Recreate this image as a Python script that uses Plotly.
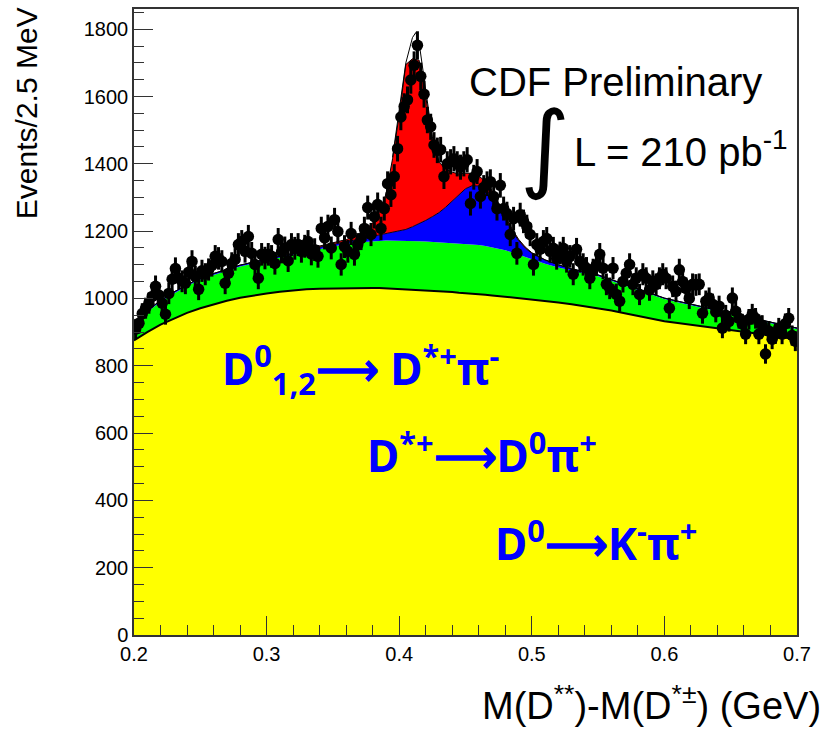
import numpy as np
import plotly.graph_objects as go

# ---------------- data ----------------
# data points: 200 bins of 2.5 MeV from 0.2 to 0.7 GeV
bin_lo = 0.2
bin_w = 0.0025
counts = [
    909, 926, 955, 971, 986, 1006, 1036, 1010, 986, 953,
    1015, 1057, 1089, 1060, 1051, 1045, 1078, 1110, 1065, 1027,
    1082, 1072, 1086, 1098, 1125, 1119, 1110, 1045, 1075, 1104,
    1116, 1160, 1169, 1140, 1184, 1134, 1101, 1060, 1131, 1120,
    1131, 1125, 1104, 1175, 1138, 1150, 1112, 1160, 1149, 1160,
    1140, 1155, 1169, 1132, 1145, 1125, 1208, 1180, 1214, 1150,
    1234, 1199, 1101, 1154, 1140, 1193, 1131, 1160, 1178, 1208,
    1270, 1190, 1243, 1279, 1208, 1267, 1341, 1308, 1362, 1445,
    1539, 1570, 1590, 1649, 1693, 1752, 1660, 1607, 1530, 1510,
    1456, 1440, 1442, 1362, 1400, 1406, 1415, 1400, 1390, 1400,
    1412, 1282, 1360, 1377, 1303, 1330, 1341, 1347, 1303, 1267,
    1336, 1267, 1252, 1190, 1237, 1134, 1249, 1229, 1214, 1190,
    1101, 1160, 1146, 1169, 1178, 1140, 1149, 1119, 1135, 1149,
    1110, 1125, 1072, 1146, 1110, 1101, 1090, 1060, 1085, 1100,
    1131, 1090, 1042, 1030, 1090, 1012, 992, 1050, 1075, 1101,
    1042, 1060, 1012, 1072, 1060, 1025, 1051, 1042, 1060, 1072,
    1060, 971, 1036, 1021, 1085, 1050, 1030, 1000, 1042, 1040,
    1042, 956, 992, 1001, 983, 960, 977, 912, 950, 932,
    1001, 962, 941, 924, 894, 938, 953, 941, 894, 920,
    835, 903, 879, 895, 912, 894, 925, 941, 890, 873,
]

# fit components on a common grid
x_grid = [0.20, 0.21, 0.22, 0.23, 0.24, 0.25, 0.26, 0.27, 0.28, 0.29,
          0.30, 0.31, 0.32, 0.33, 0.34, 0.35, 0.36, 0.37,
          0.375, 0.38, 0.385, 0.39, 0.395, 0.40, 0.405, 0.41, 0.415, 0.42,
          0.425, 0.43, 0.435, 0.44, 0.445, 0.45, 0.455, 0.46, 0.465, 0.47,
          0.475, 0.48, 0.485, 0.49, 0.495, 0.50,
          0.51, 0.52, 0.53, 0.54, 0.55, 0.56, 0.57, 0.58, 0.59, 0.60,
          0.61, 0.62, 0.63, 0.64, 0.65, 0.66, 0.67, 0.68, 0.69, 0.70]

bkg_yellow = [875, 900, 922, 940, 957, 971, 983, 993, 1002, 1009,
              1015, 1020, 1024, 1027, 1029, 1030, 1031, 1031,
              1031, 1031, 1031, 1030, 1030, 1029, 1028, 1027, 1026, 1024,
              1023, 1021, 1020, 1019, 1017, 1016, 1014, 1013, 1011, 1009,
              1007, 1005, 1003, 1002, 1000, 998,
              993, 988, 983, 977, 971, 964, 956, 948, 940, 932,
              927, 922, 917, 911, 906, 900, 895, 890, 884, 879]

bkg_green = [50, 60, 68, 75, 80, 85, 87, 90, 93, 95,
             97, 101, 106, 112, 118, 125, 131, 136,
             138, 139, 140, 142, 142, 143, 143, 144, 144, 145,
             145, 146, 146, 146, 147, 147, 147, 146, 145, 143,
             141, 138, 134, 128, 122, 117,
             110, 104, 99, 97, 95, 88, 82, 76, 71, 66,
             62, 58, 54, 51, 47, 44, 40, 36, 33, 30]

sig_blue = [4, 4, 4, 4, 4, 4, 4, 4, 4, 4,
            4, 4, 4, 5, 5, 6, 7, 9,
            11, 14, 17, 20, 24, 28, 34, 42, 52, 63,
            75, 88, 105, 125, 146, 163, 174, 175, 168, 150,
            122, 92, 64, 42, 28, 19,
            11, 8, 6, 5, 4, 4, 4, 3, 3, 3,
            3, 3, 3, 3, 3, 3, 3, 3, 3, 3]

sig_red = [0, 0, 0, 0, 0, 0, 0, 0, 0, 0,
           0, 0, 0, 2, 3, 4, 6, 14,
           25, 41, 67, 118, 219, 345, 490, 499, 486, 368,
           227, 150, 114, 85, 60, 46, 37, 30, 24, 18,
           13, 9, 6, 4, 3, 2,
           1, 0, 0, 0, 0, 0, 0, 0, 0, 0,
           0, 0, 0, 0, 0, 0, 0, 0, 0, 0]

# total fit curve near the narrow peak
fit_x = [0.395, 0.40, 0.405, 0.41, 0.4125, 0.415, 0.42, 0.425, 0.43]
fit_y = [1420, 1560, 1700, 1775, 1790, 1760, 1620, 1480, 1405]

# ---------------- figure ----------------
xc = [bin_lo + bin_w * (i + 0.5) for i in range(len(counts))]
errs = [float(np.sqrt(c)) for c in counts]

fig = go.Figure()
stack_styles = [
    (bkg_yellow, "#ffff00", dict(color="black", width=2)),
    (bkg_green, "#00ff00", dict(color="rgba(0,0,0,0)", width=0)),
    (sig_blue, "#0000ff", dict(color="#000020", width=1)),
    (sig_red, "#ff0000", dict(color="#000000", width=1)),
]
for vals, col, ln in stack_styles:
    fig.add_trace(go.Scatter(
        x=x_grid, y=vals, mode="lines", stackgroup="one",
        fillcolor=col, line=ln, hoverinfo="skip", showlegend=False))

fig.add_trace(go.Scatter(x=fit_x, y=fit_y, mode="lines",
                         line=dict(color="black", width=1), showlegend=False))

fig.add_trace(go.Scatter(
    x=xc, y=counts, mode="markers",
    marker=dict(color="black", size=11.5, symbol="circle"),
    error_y=dict(type="data", array=errs, thickness=3, width=0, color="black"),
    showlegend=False))

axis_common = dict(
    showline=True, linecolor="#333333", linewidth=1.5, mirror=True,
    ticks="inside", tickcolor="#333333", tickwidth=1.2, ticklen=19,
    showgrid=False, zeroline=False,
    tickfont=dict(family="Liberation Sans, Arial", size=20, color="black"),
)
fig.update_xaxes(range=[0.2, 0.7], dtick=0.1, tick0=0.2,
                 minor=dict(dtick=0.02, ticklen=10, ticks="inside",
                            tickcolor="#333333", tickwidth=1.2),
                 **axis_common)
fig.update_yaxes(range=[0, 1860], dtick=200, tick0=0,
                 minor=dict(dtick=50, ticklen=10, ticks="inside",
                            tickcolor="#333333", tickwidth=1.2),
                 **axis_common)

font_main = "Liberation Sans, Arial"
blue_font = "Comic Sans MS, Noto Sans, sans-serif"
annots = [
    dict(text="Events/2.5 MeV", xref="paper", yref="paper", x=-0.162, y=0.833,
         textangle=-90, font=dict(family=font_main, size=30, color="black"),
         xanchor="center", yanchor="middle"),
    dict(text="M(D<sup>**</sup>)-M(D<sup>*±</sup>) (GeV)", xref="paper", yref="paper",
         x=1.039, y=-0.108, font=dict(family=font_main, size=38, color="black"),
         xanchor="right", yanchor="middle"),
    dict(text="CDF Preliminary", x=0.4511, y=1643, xref="x", yref="y",
         font=dict(family=font_main, size=40, color="black"),
         xanchor="left", yanchor="middle"),
    dict(text="∫", x=0.5100, y=1450, xref="x", yref="y",
         font=dict(family="DejaVu Sans", size=96, color="black"),
         xanchor="center", yanchor="middle"),
    dict(text="L = 210 pb<sup>-1</sup>", x=0.5303, y=1445, xref="x", yref="y",
         font=dict(family=font_main, size=40, color="black"),
         xanchor="left", yanchor="middle"),
    dict(text="<b>D<sup>0</sup><sub>1,2</sub>⟶ D<sup>*+</sup>π<sup>-</sup></b>", x=0.2649, y=790,
         xref="x", yref="y", font=dict(family=blue_font, size=44, color="#0000ff"),
         xanchor="left", yanchor="middle"),
    dict(text="<b>D<sup>*+</sup>⟶D<sup>0</sup>π<sup>+</sup></b>", x=0.3742, y=542,
         xref="x", yref="y", font=dict(family=blue_font, size=44, color="#0000ff"),
         xanchor="left", yanchor="middle"),
    dict(text="<b>D<sup>0</sup>⟶K<sup>-</sup>π<sup>+</sup></b>", x=0.4707, y=278,
         xref="x", yref="y", font=dict(family=blue_font, size=44, color="#0000ff"),
         xanchor="left", yanchor="middle"),
]
for a in annots:
    a["showarrow"] = False
    fig.add_annotation(**a)

fig.update_layout(
    width=828, height=733,
    margin=dict(l=134, r=31, t=7, b=98),
    paper_bgcolor="white", plot_bgcolor="white",
    showlegend=False,
)

fig.write_html("out.html")
